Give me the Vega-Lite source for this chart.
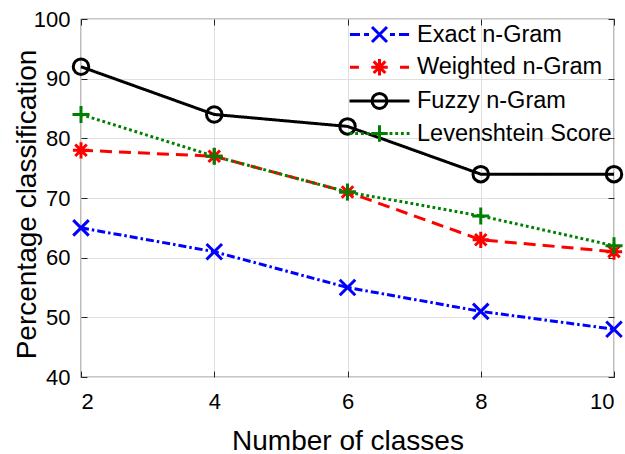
{
  "$schema": "https://vega.github.io/schema/vega-lite/v6.json",
  "width": 533,
  "height": 358,
  "autosize": {"type": "none"},
  "padding": {"left": 81, "top": 19, "right": 11, "bottom": 77},
  "background": "white",
  "data": {
    "values": [
      {"classes": 2, "pct": 65, "series": "Exact n-Gram"},
      {"classes": 4, "pct": 61, "series": "Exact n-Gram"},
      {"classes": 6, "pct": 55, "series": "Exact n-Gram"},
      {"classes": 8, "pct": 51, "series": "Exact n-Gram"},
      {"classes": 10, "pct": 48, "series": "Exact n-Gram"},
      {"classes": 2, "pct": 78, "series": "Weighted n-Gram"},
      {"classes": 4, "pct": 77, "series": "Weighted n-Gram"},
      {"classes": 6, "pct": 71, "series": "Weighted n-Gram"},
      {"classes": 8, "pct": 63, "series": "Weighted n-Gram"},
      {"classes": 10, "pct": 61, "series": "Weighted n-Gram"},
      {"classes": 2, "pct": 92, "series": "Fuzzy n-Gram"},
      {"classes": 4, "pct": 84, "series": "Fuzzy n-Gram"},
      {"classes": 6, "pct": 82, "series": "Fuzzy n-Gram"},
      {"classes": 8, "pct": 74, "series": "Fuzzy n-Gram"},
      {"classes": 10, "pct": 74, "series": "Fuzzy n-Gram"},
      {"classes": 2, "pct": 84, "series": "Levenshtein Score"},
      {"classes": 4, "pct": 77, "series": "Levenshtein Score"},
      {"classes": 6, "pct": 71, "series": "Levenshtein Score"},
      {"classes": 8, "pct": 67, "series": "Levenshtein Score"},
      {"classes": 10, "pct": 62, "series": "Levenshtein Score"}
    ]
  },
  "layer": [
    {
      "layer": [
        {
          "mark": {"type": "line", "strokeWidth": 3, "strokeCap": "butt"},
          "encoding": {
            "strokeDash": {
              "field": "series",
              "type": "nominal",
              "scale": {
                "domain": ["Exact n-Gram", "Weighted n-Gram", "Fuzzy n-Gram", "Levenshtein Score"],
                "range": [[8, 3, 2.5, 3], [12, 7], [1, 0], [2.8, 2.8]]
              },
              "legend": null
            }
          }
        },
        {
          "mark": {"type": "point", "filled": false, "strokeWidth": 3, "size": 240, "opacity": 1},
          "encoding": {
            "shape": {
              "field": "series",
              "type": "nominal",
              "scale": {
                "domain": ["Exact n-Gram", "Weighted n-Gram", "Fuzzy n-Gram", "Levenshtein Score"],
                "range": [
                  "M-1,-1L1,1M-1,1L1,-1",
                  "M0,-1.05L0,1.05M-1.05,0L1.05,0M-0.74,-0.74L0.74,0.74M-0.74,0.74L0.74,-0.74",
                  "circle",
                  "M-1.1,0L1.1,0M0,-1.1L0,1.1"
                ]
              },
              "legend": null
            }
          }
        }
      ],
      "encoding": {
        "x": {
          "field": "classes",
          "type": "quantitative",
          "scale": {"domain": [2, 10], "nice": false, "zero": false},
          "axis": {"values": [2, 4, 6, 8, 10], "title": "Number of classes", "labelPadding": 20, "titleBaseline": "alphabetic", "titleY": 72, "orient": "bottom"}
        },
        "y": {
          "field": "pct",
          "type": "quantitative",
          "scale": {"domain": [40, 100], "nice": false, "zero": false},
          "axis": {"values": [40, 50, 60, 70, 80, 90, 100], "title": "Percentage classification", "labelPadding": 17, "titleBaseline": "alphabetic", "titleAngle": -90, "titleAlign": "center", "titleX": -46, "titleY": 185, "orient": "left"}
        },
        "color": {
          "field": "series",
          "type": "nominal",
          "scale": {
            "domain": ["Exact n-Gram", "Weighted n-Gram", "Fuzzy n-Gram", "Levenshtein Score"],
            "range": ["#0000ff", "#ff0000", "#000000", "#008000"]
          },
          "legend": null
        }
      }
    },
    {
      "transform": [{"filter": "false"}],
      "mark": {"type": "point", "filled": false, "strokeWidth": 3, "size": 900, "opacity": 1},
      "encoding": {
        "x": {
          "field": "classes",
          "type": "quantitative",
          "scale": {"domain": [2, 10], "nice": false, "zero": false},
          "axis": {"values": [2, 4, 6, 8, 10], "orient": "top", "labels": false, "grid": false, "title": null}
        },
        "y": {
          "field": "pct",
          "type": "quantitative",
          "scale": {"domain": [40, 100], "nice": false, "zero": false},
          "axis": {"values": [40, 50, 60, 70, 80, 90, 100], "orient": "right", "labels": false, "grid": false, "title": null}
        },
        "color": {
          "field": "series",
          "type": "nominal",
          "scale": {
            "domain": ["Exact n-Gram", "Weighted n-Gram", "Fuzzy n-Gram", "Levenshtein Score"],
            "range": ["#0000ff", "#ff0000", "#000000", "#008000"]
          },
          "legend": {
            "title": null,
            "orient": "none",
            "legendX": 282,
            "legendY": -1,
            "padding": 0,
            "symbolSize": 900,
            "symbolStrokeWidth": 3,
            "symbolOpacity": 1,
            "labelOffset": 21,
            "rowPadding": 2.7,
            "labelFontSize": 23.5,
            "labelFont": "Liberation Sans",
            "labelColor": "#000000",
            "labelLimit": 0
          }
        },
        "shape": {
          "field": "series",
          "type": "nominal",
          "scale": {
            "domain": ["Exact n-Gram", "Weighted n-Gram", "Fuzzy n-Gram", "Levenshtein Score"],
            "range": [
              "M-1.97,0L-1.3,0M-1.03,0L-0.7,0M0.7,0L1.03,0M1.3,0L1.97,0M-0.5,-0.5L0.5,0.5M-0.5,0.5L0.5,-0.5",
              "M-1.97,0L-1.37,0M1.37,0L1.97,0M0,-0.55L0,0.55M-0.55,0L0.55,0M-0.39,-0.39L0.39,0.39M-0.39,0.39L0.39,-0.39",
              "M-2,0L2,0M0.5,0A0.5,0.5,0,1,1,-0.5,0A0.5,0.5,0,1,1,0.5,0",
              "M-2,0L-1.81,0M-1.62,0L-1.43,0M-1.24,0L-1.05,0M-0.86,0L-0.67,0M0.67,0L0.86,0M1.05,0L1.24,0M1.43,0L1.62,0M1.81,0L2,0M-0.55,0L0.55,0M0,-0.55L0,0.55"
            ]
          },
          "legend": {
            "title": null,
            "orient": "none",
            "legendX": 282,
            "legendY": -1,
            "padding": 0,
            "symbolSize": 900,
            "symbolStrokeWidth": 3,
            "symbolOpacity": 1,
            "labelOffset": 21,
            "rowPadding": 2.7,
            "labelFontSize": 23.5,
            "labelFont": "Liberation Sans",
            "labelColor": "#000000",
            "labelLimit": 0
          }
        }
      }
    }
  ],
  "resolve": {
    "scale": {"color": "independent", "shape": "independent"},
    "axis": {"x": "independent", "y": "independent"}
  },
  "config": {
    "view": {"stroke": "#262626", "strokeWidth": 1.2},
    "axis": {
      "domain": false,
      "tickColor": "#262626",
      "tickSize": -6,
      "tickWidth": 1,
      "gridColor": "#dfdfdf",
      "gridWidth": 1,
      "labelFont": "Liberation Sans",
      "labelFontSize": 22,
      "labelColor": "#000000",
      "titleFont": "Liberation Sans",
      "titleFontSize": 28,
      "titleFontWeight": "normal",
      "titleColor": "#000000"
    }
  }
}
